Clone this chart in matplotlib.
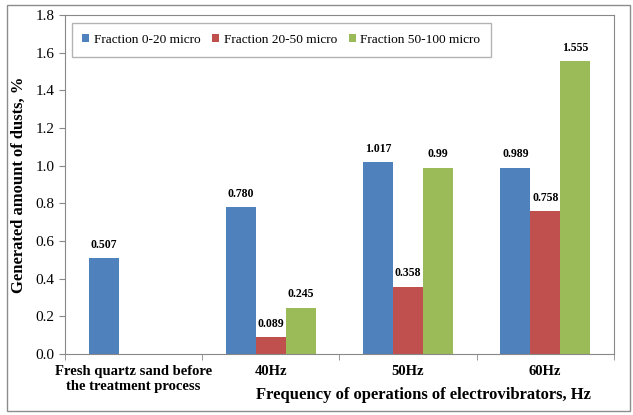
import matplotlib.pyplot as plt
import numpy as np
from matplotlib.patches import Rectangle

plt.rcParams['font.family'] = ['Liberation Serif', 'DejaVu Serif']

categories = ["Fresh quartz sand before\nthe treatment process", "40Hz", "50Hz", "60Hz"]
series_names = ["Fraction 0-20 micro", "Fraction 20-50 micro", "Fraction 50-100 micro"]
fine = [0.507, 0.780, 1.017, 0.989]
medium = [np.nan, 0.089, 0.358, 0.758]
coarse = [np.nan, 0.245, 0.99, 1.555]
fine_lbl = ["0.507", "0.780", "1.017", "0.989"]
medium_lbl = ["", "0.089", "0.358", "0.758"]
coarse_lbl = ["", "0.245", "0.99", "1.555"]

colors = ["#4F81BD", "#C0504D", "#9BBB59"]

fig = plt.figure(figsize=(6.33, 4.15), dpi=100)
ax = fig.add_axes([0.1027, 0.147, 0.867, 0.817])

# outer frame like the spreadsheet chart area
fig.patches.append(Rectangle((0.011, 0.010), 0.985, 0.978, transform=fig.transFigure,
                             fill=False, edgecolor="#8c8c8c", linewidth=1.0))

x = np.arange(len(categories))
w = 0.218
for i, (vals, lbls) in enumerate(zip([fine, medium, coarse], [fine_lbl, medium_lbl, coarse_lbl])):
    pos = x + (i - 1) * w
    ax.bar(pos, vals, w, color=colors[i], label=series_names[i])
    for p, v, t in zip(pos, vals, lbls):
        if t:
            ax.text(p, v + 0.04, t, ha="center", va="bottom", fontsize=8.5, fontweight="bold",
                    bbox=dict(facecolor="white", edgecolor="none", pad=0.5))

ax.set_xlim(-0.5, 3.5)
ax.set_ylim(0, 1.8)
ax.set_yticks(np.arange(0, 1.81, 0.2))
ax.set_yticklabels([f"{v:.1f}" for v in np.arange(0, 1.81, 0.2)], fontsize=11)
ax.set_xticks(x)
ax.set_xticklabels(categories, fontsize=10.5, fontweight="bold")
ax.set_xticks(np.arange(-0.5, 3.6, 1), minor=True)
ax.tick_params(axis="x", which="major", length=0, pad=8)
ax.tick_params(axis="x", which="minor", length=4, color="#888888")
ax.tick_params(axis="y", length=4, color="#888888")
for s in ax.spines.values():
    s.set_color("#888888")

ax.set_ylabel("Generated amount of dusts, %", fontsize=12, fontweight="bold", labelpad=6)
fig.text(0.933, 0.048, "Frequency of operations of electrovibrators, Hz", ha="right", va="center",
         fontsize=12, fontweight="bold")

leg = ax.legend(loc="upper left", ncol=3, fontsize=9.6, frameon=True, fancybox=False,
                edgecolor="#a0a0a0", handlelength=0.5, handleheight=0.5, handletextpad=0.35,
                columnspacing=0.9, bbox_to_anchor=(0.0, 0.995), borderpad=0.8)
leg.get_frame().set_linewidth(1.0)

fig.savefig("out.png", dpi=100)
